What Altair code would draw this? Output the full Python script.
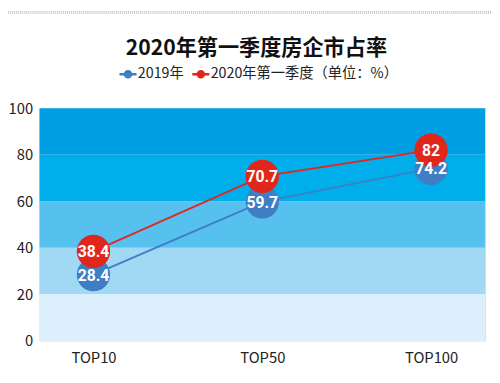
import altair as alt
import pandas as pd

categories = ["TOP10", "TOP50", "TOP100"]
series_names = ["2019年", "2020年第一季度（单位：%）"]
values_2019 = [28.4, 59.7, 74.2]
values_2020 = [38.4, 70.7, 82]
series_colors = ["#3f7dc4", "#e1261c"]

band_lo = [0, 20, 40, 60, 80]
band_hi = [20, 40, 60, 80, 100]
band_colors = ["#dbeffc", "#a1d9f5", "#56c0ef", "#00aeeb", "#009fe3"]

W, H = 453, 236
FONT = "Noto Sans CJK SC"
NUMFONT = "Roboto"

rows = []
for s, vals in zip(series_names, [values_2019, values_2020]):
    for c, v in zip(categories, vals):
        rows.append({"cat": c, "series": s, "value": v, "label": f"{v:g}"})
df = pd.DataFrame(rows)

bands = pd.DataFrame({"lo": band_lo, "hi": band_hi, "col": band_colors})

x_enc = alt.X("cat:N", sort=categories, title=None,
              scale=alt.Scale(type="point", padding=0.32),
              axis=alt.Axis(labelAngle=0, labelFontSize=15, labelColor="#222",
                            labelFont=FONT, ticks=False, domain=False,
                            labelPadding=10, grid=False))
y_scale = alt.Scale(domain=[0, 100])
y_axis = alt.Axis(values=[0, 20, 40, 60, 80, 100], labelFontSize=15, labelColor="#222",
                  labelFont=FONT, ticks=False, domain=False, grid=False, labelPadding=7)

band_layer = alt.Chart(bands).mark_rect().encode(
    x=alt.value(0), x2=alt.value(W),
    y=alt.Y("lo:Q", scale=y_scale, axis=y_axis, title=None),
    y2="hi:Q",
    fill=alt.Fill("col:N", scale=None),
)

legend_sym = ("M -1 -0.14 L 1 -0.14 L 1 0.14 L -1 0.14 Z "
              "M 0.5 0 A 0.5 0.5 0 1 1 -0.5 0 A 0.5 0.5 0 1 1 0.5 0 Z")
color = alt.Color("series:N", sort=series_names,
                  scale=alt.Scale(domain=series_names, range=series_colors),
                  legend=alt.Legend(title=None, orient="none", legendX=81, legendY=-44,
                                    direction="horizontal", labelFontSize=14.5,
                                    labelFont=FONT, labelColor="#222", labelLimit=400,
                                    symbolType=legend_sym,
                                    symbolSize=300, symbolStrokeWidth=0,
                                    symbolOpacity=1, columnPadding=8, labelOffset=1))

base = alt.Chart(df).encode(
    x=x_enc,
    y=alt.Y("value:Q", scale=y_scale, axis=y_axis, title=None),
)

lines = base.mark_line(strokeWidth=1.8).encode(color=color, detail="series:N")
points = base.mark_circle(size=1150, opacity=1).encode(
    color=alt.Color("series:N", scale=alt.Scale(domain=series_names, range=series_colors), legend=None))
labels = base.mark_text(color="white", fontSize=16, fontWeight="bold", font=NUMFONT,
                        baseline="middle", align="center", dy=1).encode(text="label:N")

border = alt.Chart(pd.DataFrame({"a": [0]})).mark_rule(
    color="#c8c8c8", strokeWidth=3, strokeDash=[1, 1]).encode(
    x=alt.value(-32), x2=alt.value(W + 7), y=alt.value(-97.5))

chart = alt.layer(band_layer, lines, points, labels, border).properties(
    width=W, height=H,
    title=alt.TitleParams("2020年第一季度房企市占率", fontSize=21.5, fontWeight="bold",
                          font=FONT, color="#111", anchor="middle", offset=-49, dx=-6),
    autosize=alt.AutoSizeParams(type="none"),
    padding={"left": 32, "top": 99, "right": 7, "bottom": 32},
).configure_view(stroke=None).configure(background="white")

chart.save("out.html", embed_options={"renderer": "svg", "actions": False})
